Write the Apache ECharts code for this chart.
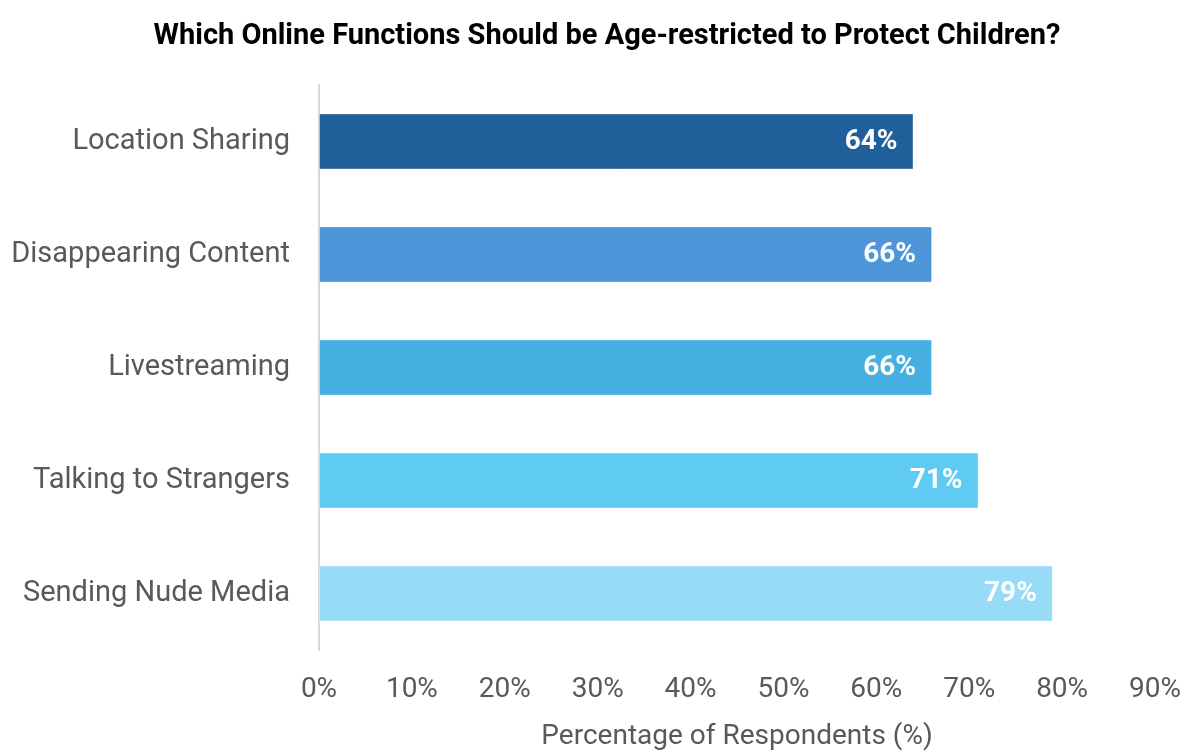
<!DOCTYPE html>
<html>
<head>
<meta charset="utf-8">
<script src="https://cdn.jsdelivr.net/npm/echarts@6/dist/echarts.min.js"></script>
<style>html,body{margin:0;padding:0;background:#fff;}#c{width:1184px;height:756px;}</style>
</head>
<body>
<div id="c"></div>
<script>
const categories = ["Location Sharing", "Disappearing Content", "Livestreaming", "Talking to Strangers", "Sending Nude Media"];
const values = [64, 66, 66, 71, 79];
const barColors = ["#215F9A", "#4E95D9", "#45B0E1", "#5FCBF3", "#97DBF7"];
const xTicks = [0, 10, 20, 30, 40, 50, 60, 70, 80, 90];

const chart = echarts.init(document.getElementById('c'), null, {renderer: 'canvas'});
chart.setOption({
  animation: false,
  backgroundColor: '#ffffff',
  title: {
    text: 'Which Online Functions Should be Age-restricted to Protect Children?',
    left: 602, top: 17, textAlign: 'center',
    textStyle: {fontFamily: 'Roboto', fontWeight: 'bold', fontSize: 29, color: '#000'}
  },
  grid: {left: 319, right: 27, top: 85, bottom: 101, containLabel: false},
  xAxis: {
    type: 'value', min: xTicks[0], max: xTicks[xTicks.length - 1], interval: 10,
    axisLine: {show: false}, axisTick: {show: false}, splitLine: {show: false},
    axisLabel: {formatter: '{value}%', fontFamily: 'Roboto', fontSize: 28, color: '#595959', margin: 26},
    name: 'Percentage of Respondents (%)', nameLocation: 'middle', nameGap: 73,
    nameTextStyle: {fontFamily: 'Roboto', fontSize: 28, color: '#595959'}
  },
  yAxis: {
    type: 'category', data: categories, inverse: true,
    axisLine: {show: true, lineStyle: {color: '#D9D9D9', width: 2}},
    axisTick: {show: false},
    axisLabel: {fontFamily: 'Roboto', fontSize: 29, color: '#595959', margin: 29}
  },
  series: [{
    type: 'bar', barWidth: 56,
    data: values.map((v, i) => ({value: v, itemStyle: {color: barColors[i]}})),
    itemStyle: {borderColor: 'rgba(255,255,255,0.35)', borderWidth: 1},
    label: {
      show: true, position: 'insideRight', distance: 16, formatter: '{c}%',
      fontFamily: 'Roboto', fontWeight: 'bold', fontSize: 28, color: '#fff'
    }
  }]
});
</script>
</body>
</html>
